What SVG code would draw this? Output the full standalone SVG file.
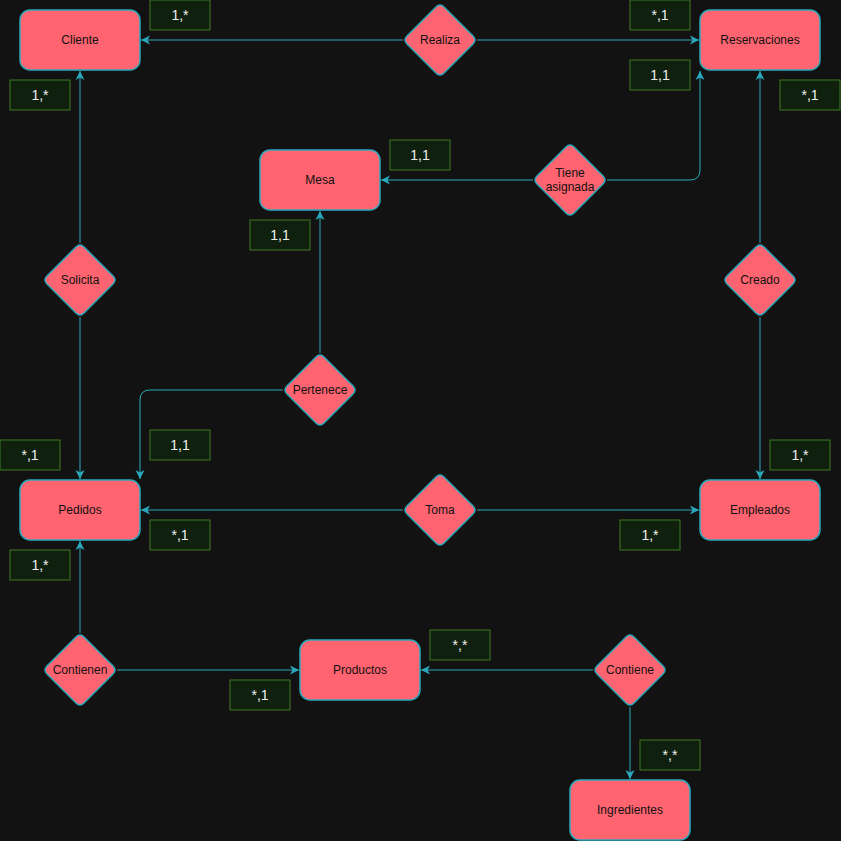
<svg xmlns="http://www.w3.org/2000/svg" width="841" height="841" viewBox="0 0 841 841">
<defs>
<style>
.ent{fill:#ff6470;stroke:#2aa9bd;stroke-width:1.5}
.rel{fill:#ff6470;stroke:#2aa9bd;stroke-width:1.5;stroke-linejoin:round}
.t{font-family:"Liberation Sans",Arial,sans-serif;font-size:12px;fill:#111;text-anchor:middle;dominant-baseline:central}
.lb{fill:#10200f;stroke:#3e7a1e;stroke-width:1}
.lt{font-family:"Liberation Sans",Arial,sans-serif;font-size:14px;fill:#f0f0f0;text-anchor:middle;dominant-baseline:central}
.c{fill:none;stroke:#2aa9bd;stroke-width:1;marker-end:url(#ar)}
</style>
<marker id="ar" markerWidth="10" markerHeight="10" viewBox="0 0 10 10" refX="9" refY="5" orient="auto" markerUnits="userSpaceOnUse">
<path d="M0,0.5 L9,5 L0,9.5 L2.5,5 Z" fill="#2aa9bd"/>
</marker>
<path id="dm" d="M-4,-33 Q0,-37 4,-33 L33,-4 Q37,0 33,4 L4,33 Q0,37 -4,33 L-33,4 Q-37,0 -33,-4 Z"/>
</defs>
<rect width="841" height="841" fill="#121212"/>
<g id="connectors">
<path class="c" d="M403,40 L141,40"/>
<path class="c" d="M477,40 L699,40"/>
<path class="c" d="M80,243 L80,71"/>
<path class="c" d="M80,317 L80,479"/>
<path class="c" d="M533,180 L381,180"/>
<path class="c" d="M607,180 L690,180 Q700,180 700,170 L700,71"/>
<path class="c" d="M760,243 L760,71"/>
<path class="c" d="M760,317 L760,479"/>
<path class="c" d="M320,353 L320,211"/>
<path class="c" d="M283,390 L150,390 Q140,390 140,400 L140,479"/>
<path class="c" d="M403,510 L141,510"/>
<path class="c" d="M477,510 L699,510"/>
<path class="c" d="M80,633 L80,541"/>
<path class="c" d="M117,670 L299,670"/>
<path class="c" d="M593,670 L421,670"/>
<path class="c" d="M630,707 L630,779"/>
</g>
<g id="Cliente"><rect class="ent" x="20" y="10" width="120" height="60" rx="10"/><text class="t" x="80" y="40">Cliente</text></g>
<g id="Reservaciones"><rect class="ent" x="700" y="10" width="120" height="60" rx="10"/><text class="t" x="760" y="40">Reservaciones</text></g>
<g id="Mesa"><rect class="ent" x="260" y="150" width="120" height="60" rx="10"/><text class="t" x="320" y="180">Mesa</text></g>
<g id="Pedidos"><rect class="ent" x="20" y="480" width="120" height="60" rx="10"/><text class="t" x="80" y="510">Pedidos</text></g>
<g id="Empleados"><rect class="ent" x="700" y="480" width="120" height="60" rx="10"/><text class="t" x="760" y="510">Empleados</text></g>
<g id="Productos"><rect class="ent" x="300" y="640" width="120" height="60" rx="10"/><text class="t" x="360" y="670">Productos</text></g>
<g id="Ingredientes"><rect class="ent" x="570" y="780" width="120" height="60" rx="10"/><text class="t" x="630" y="810">Ingredientes</text></g>
<g id="Realiza"><use href="#dm" class="rel" x="440" y="40"/><text class="t" x="440" y="40">Realiza</text></g>
<g id="TieneAsignada"><use href="#dm" class="rel" x="570" y="180"/><text class="t" x="570" y="173">Tiene</text><text class="t" x="570" y="187">asignada</text></g>
<g id="Solicita"><use href="#dm" class="rel" x="80" y="280"/><text class="t" x="80" y="280">Solicita</text></g>
<g id="Creado"><use href="#dm" class="rel" x="760" y="280"/><text class="t" x="760" y="280">Creado</text></g>
<g id="Pertenece"><use href="#dm" class="rel" x="320" y="390"/><text class="t" x="320" y="390">Pertenece</text></g>
<g id="Toma"><use href="#dm" class="rel" x="440" y="510"/><text class="t" x="440" y="510">Toma</text></g>
<g id="Contienen"><use href="#dm" class="rel" x="80" y="670"/><text class="t" x="80" y="670">Contienen</text></g>
<g id="Contiene"><use href="#dm" class="rel" x="630" y="670"/><text class="t" x="630" y="670">Contiene</text></g>
<g id="labels">
<g><rect class="lb" x="150" y="0" width="60" height="30"/><text class="lt" x="180" y="15">1,*</text></g>
<g><rect class="lb" x="630" y="0" width="60" height="30"/><text class="lt" x="660" y="15">*,1</text></g>
<g><rect class="lb" x="630" y="60" width="60" height="30"/><text class="lt" x="660" y="75">1,1</text></g>
<g><rect class="lb" x="10" y="80" width="60" height="30"/><text class="lt" x="40" y="95">1,*</text></g>
<g><rect class="lb" x="780" y="80" width="60" height="30"/><text class="lt" x="810" y="95">*,1</text></g>
<g><rect class="lb" x="390" y="140" width="60" height="30"/><text class="lt" x="420" y="155">1,1</text></g>
<g><rect class="lb" x="250" y="220" width="60" height="30"/><text class="lt" x="280" y="235">1,1</text></g>
<g><rect class="lb" x="0" y="440" width="60" height="30"/><text class="lt" x="30" y="455">*,1</text></g>
<g><rect class="lb" x="150" y="430" width="60" height="30"/><text class="lt" x="180" y="445">1,1</text></g>
<g><rect class="lb" x="770" y="440" width="60" height="30"/><text class="lt" x="800" y="455">1,*</text></g>
<g><rect class="lb" x="150" y="520" width="60" height="30"/><text class="lt" x="180" y="535">*,1</text></g>
<g><rect class="lb" x="620" y="520" width="60" height="30"/><text class="lt" x="650" y="535">1,*</text></g>
<g><rect class="lb" x="10" y="550" width="60" height="30"/><text class="lt" x="40" y="565">1,*</text></g>
<g><rect class="lb" x="430" y="630" width="60" height="30"/><text class="lt" x="460" y="645">*,*</text></g>
<g><rect class="lb" x="230" y="680" width="60" height="30"/><text class="lt" x="260" y="695">*,1</text></g>
<g><rect class="lb" x="640" y="740" width="60" height="30"/><text class="lt" x="670" y="755">*,*</text></g>
</g>
</svg>
